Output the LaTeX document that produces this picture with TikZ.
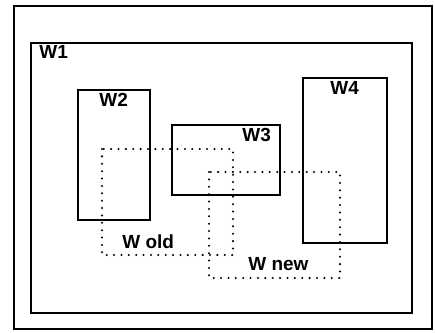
\documentclass[tikz,border=0pt]{standalone}
\usepackage{fontspec}
\setmainfont{Liberation Sans}
\usetikzlibrary{positioning}
\tikzset{
    frame/.style={draw, line width=1.2pt},
    win/.style={draw, line width=1.2pt},
    ghost/.style={draw, line width=1.3pt, line cap=round, dash pattern=on 0pt off 4.2pt},
    wlabel/.style={anchor=base west, inner sep=0pt, font=\fontsize{10.8}{13}\selectfont\bfseries}
}
\begin{document}
\begin{tikzpicture}[x=0.02cm, y=-0.02cm]
\useasboundingbox (0,0) rectangle (435,332);

% screen and windows
\draw[frame] (14,6) rectangle (432,329);
\draw[win] (31,43) rectangle (412,313);
\draw[win] (78,90) rectangle (150,220);
\draw[win] (172,125) rectangle (280,195);
\draw[win] (303,78) rectangle (387,243);

% old and new position
\draw[ghost] (102,149) rectangle (233,255);
\draw[ghost] (209,172) rectangle (340,278);

\node[wlabel] (w1) at (39,58) {W1};
\node[wlabel] (w2) at (99,106) {W2};
\node[wlabel] (w3) at (242,141) {W3};
\node[wlabel] (w4) at (330,94) {W4};
\node[wlabel] (wold) at (122,248) {W old};
\node[wlabel] (wnew) at (248,270) {W new};

\end{tikzpicture}
\end{document}
